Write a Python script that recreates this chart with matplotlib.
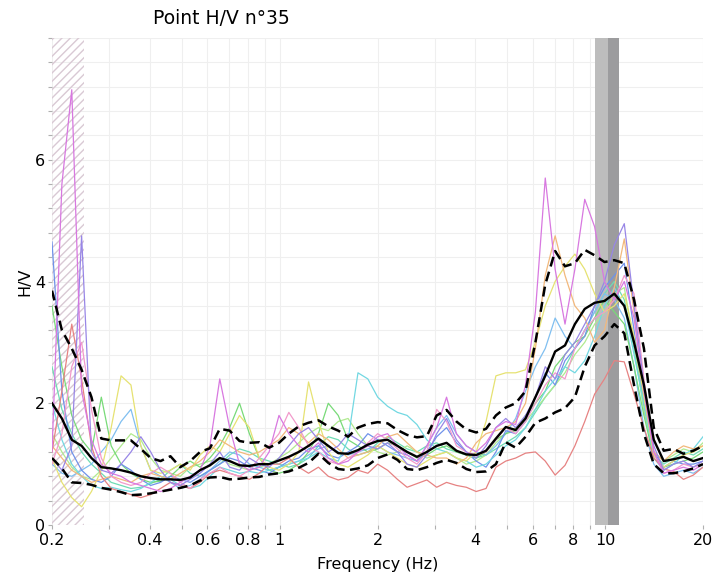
import matplotlib
matplotlib.use("Agg")
import matplotlib.pyplot as plt
from matplotlib.ticker import FixedLocator, FixedFormatter, MultipleLocator, NullFormatter

# Frequency samples (Hz), log spaced from 0.2 to 20
freq = [0.200, 0.2145, 0.230, 0.2466, 0.2644, 0.2835, 0.304, 0.326, 0.3496, 0.3749,
        0.402, 0.431, 0.4622, 0.4956, 0.5314, 0.5699, 0.6111, 0.6553, 0.7027, 0.7535,
        0.808, 0.8664, 0.9291, 0.9963, 1.068, 1.146, 1.228, 1.317, 1.412, 1.515,
        1.624, 1.742, 1.868, 2.003, 2.148, 2.303, 2.466, 2.644, 2.835, 3.04,
        3.26, 3.496, 3.749, 4.02, 4.31, 4.622, 4.956, 5.314, 5.699, 6.111,
        6.553, 7.027, 7.535, 8.08, 8.664, 9.291, 9.963, 10.68, 11.46, 12.28,
        13.17, 14.12, 15.15, 16.24, 17.42, 18.68, 20.0]

hv_mean = [2.00, 1.75, 1.40, 1.30, 1.10, 0.95, 0.93, 0.90, 0.86, 0.80,
           0.77, 0.75, 0.75, 0.74, 0.78, 0.90, 0.98, 1.10, 1.05, 0.98,
           0.97, 1.00, 1.00, 1.06, 1.12, 1.20, 1.30, 1.42, 1.30, 1.18,
           1.17, 1.23, 1.32, 1.38, 1.40, 1.30, 1.20, 1.12, 1.20, 1.30,
           1.35, 1.22, 1.16, 1.15, 1.22, 1.42, 1.61, 1.56, 1.75, 2.10,
           2.45, 2.85, 2.95, 3.30, 3.55, 3.65, 3.68, 3.80, 3.60, 3.00,
           2.30, 1.40, 1.05, 1.08, 1.12, 1.05, 1.10]

hv_upper = [3.85, 3.20, 2.90, 2.55, 2.10, 1.42, 1.39, 1.39, 1.39, 1.25,
            1.10, 1.05, 1.13, 0.95, 1.05, 1.20, 1.26, 1.58, 1.55, 1.38,
            1.35, 1.36, 1.27, 1.35, 1.50, 1.62, 1.68, 1.72, 1.62, 1.55,
            1.45, 1.60, 1.66, 1.69, 1.67, 1.56, 1.48, 1.44, 1.46, 1.80,
            1.89, 1.70, 1.57, 1.52, 1.58, 1.80, 1.93, 2.00, 2.20, 3.00,
            3.95, 4.50, 4.25, 4.30, 4.52, 4.43, 4.32, 4.35, 4.30, 3.70,
            2.90, 1.60, 1.22, 1.25, 1.17, 1.22, 1.30]

hv_lower = [1.10, 0.93, 0.70, 0.69, 0.66, 0.61, 0.58, 0.54, 0.49, 0.50,
            0.52, 0.55, 0.58, 0.61, 0.65, 0.73, 0.78, 0.79, 0.75, 0.76,
            0.78, 0.79, 0.83, 0.85, 0.88, 0.94, 1.02, 1.17, 1.02, 0.92,
            0.90, 0.93, 0.98, 1.10, 1.16, 1.07, 0.92, 0.90, 0.95, 1.02,
            1.07, 1.02, 0.92, 0.87, 0.88, 1.00, 1.36, 1.27, 1.45, 1.68,
            1.75, 1.85, 1.92, 2.10, 2.60, 2.95, 3.10, 3.30, 3.15, 2.30,
            1.50, 1.00, 0.85, 0.85, 0.88, 0.93, 1.00]

# Individual time windows
win_magenta = [1.20, 5.60, 7.15, 2.20, 1.40, 1.00, 0.85, 0.80, 0.70, 0.65,
               0.60, 0.55, 0.60, 0.70, 0.80, 0.90, 1.30, 2.40, 1.60, 1.00,
               0.90, 0.95, 1.20, 1.80, 1.50, 1.30, 1.20, 1.35, 1.10, 1.00,
               1.05, 1.20, 1.30, 1.45, 1.50, 1.30, 1.15, 1.05, 1.30, 1.60,
               2.10, 1.50, 1.30, 1.20, 1.35, 1.60, 1.70, 1.65, 2.30, 3.50,
               5.70, 4.20, 3.30, 4.20, 5.35, 4.90, 4.00, 3.70, 4.00, 3.40,
               2.20, 1.20, 0.85, 0.90, 0.95, 0.90, 1.00]
win_violet = [1.10, 0.90, 1.30, 4.75, 1.20, 0.90, 0.85, 1.00, 1.20, 1.45,
              1.20, 0.90, 0.70, 0.65, 0.75, 0.85, 1.00, 1.20, 0.95, 0.90,
              1.10, 1.00, 0.95, 1.10, 1.30, 1.50, 1.60, 1.40, 1.20, 1.30,
              1.50, 1.40, 1.30, 1.25, 1.35, 1.20, 1.00, 0.95, 1.15, 1.50,
              1.75, 1.40, 1.20, 1.10, 1.30, 1.60, 1.75, 1.60, 1.80, 2.10,
              2.60, 2.40, 2.80, 3.00, 3.30, 3.60, 4.00, 4.60, 4.95, 3.60,
              2.30, 1.30, 0.90, 1.00, 1.05, 0.95, 1.05]
win_blue = [4.65, 2.20, 1.20, 0.90, 0.75, 0.70, 0.80, 1.00, 0.90, 0.75,
            0.65, 0.70, 0.80, 0.75, 0.70, 0.80, 0.90, 1.00, 1.10, 1.05,
            0.95, 0.90, 0.85, 0.95, 1.05, 1.10, 1.25, 1.30, 1.15, 1.10,
            1.20, 1.30, 1.50, 1.40, 1.30, 1.20, 1.15, 1.05, 1.20, 1.45,
            1.60, 1.35, 1.20, 1.05, 0.95, 1.20, 1.55, 1.50, 1.70, 2.10,
            2.50, 2.30, 2.70, 2.90, 3.10, 3.60, 3.90, 4.10, 4.30, 3.20,
            2.00, 1.20, 0.95, 1.05, 1.00, 1.00, 1.05]
win_cyan = [2.00, 1.40, 1.00, 0.80, 0.65, 0.60, 0.62, 0.58, 0.55, 0.60,
            0.70, 0.80, 0.75, 0.65, 0.60, 0.65, 0.80, 0.95, 0.90, 0.85,
            0.88, 0.85, 0.90, 0.95, 1.00, 1.05, 1.10, 1.20, 1.10, 1.05,
            1.40, 2.50, 2.40, 2.10, 1.95, 1.85, 1.80, 1.65, 1.40, 1.25,
            1.20, 1.10, 1.05, 0.95, 1.00, 1.15, 1.30, 1.40, 1.60, 1.90,
            2.20, 2.40, 2.60, 2.50, 2.70, 3.10, 3.60, 3.90, 3.60, 2.80,
            2.00, 1.10, 0.90, 1.00, 1.15, 1.25, 1.45]
win_sky = [1.00, 0.85, 0.80, 0.90, 1.00, 1.20, 1.40, 1.70, 1.90, 1.30,
           0.90, 0.80, 0.70, 0.60, 0.65, 0.75, 0.90, 1.05, 1.20, 1.15,
           1.00, 0.95, 0.90, 0.95, 1.00, 1.05, 1.15, 1.25, 1.30, 1.20,
           1.15, 1.20, 1.25, 1.30, 1.20, 1.15, 1.10, 1.05, 1.30, 1.60,
           1.80, 1.50, 1.30, 1.20, 1.15, 1.30, 1.50, 1.75, 2.20, 2.60,
           2.90, 3.40, 3.10, 2.90, 3.20, 3.50, 3.80, 3.70, 3.40, 2.60,
           1.60, 1.00, 0.80, 0.85, 0.90, 0.85, 0.95]
win_green = [3.60, 2.60, 1.80, 1.40, 1.20, 2.10, 1.30, 1.00, 0.85, 0.75,
             0.70, 0.72, 0.80, 0.95, 1.05, 0.95, 1.10, 1.30, 1.60, 2.00,
             1.50, 1.10, 0.90, 0.85, 0.90, 1.00, 1.20, 1.50, 2.00, 1.80,
             1.40, 1.30, 1.20, 1.25, 1.35, 1.30, 1.20, 1.10, 1.15, 1.25,
             1.30, 1.20, 1.15, 1.10, 1.20, 1.40, 1.50, 1.55, 1.80, 2.00,
             2.20, 2.60, 2.80, 3.00, 3.10, 3.40, 3.70, 3.50, 3.30, 2.60,
             1.80, 1.10, 0.95, 1.00, 1.05, 1.10, 1.20]
win_lime = [1.50, 1.20, 0.95, 0.80, 0.75, 0.90, 1.10, 1.30, 1.50, 1.40,
            1.10, 0.90, 0.85, 0.80, 0.95, 1.00, 1.05, 1.10, 1.00, 0.95,
            0.90, 0.95, 1.00, 1.10, 1.20, 1.35, 1.50, 1.60, 1.55, 1.70,
            1.75, 1.50, 1.30, 1.20, 1.15, 1.20, 1.30, 1.20, 1.10, 1.15,
            1.20, 1.10, 1.00, 1.05, 1.15, 1.35, 1.50, 1.60, 1.70, 1.90,
            2.10, 2.30, 2.50, 2.80, 3.00, 3.30, 3.50, 3.80, 3.90, 3.00,
            1.90, 1.20, 1.05, 1.15, 1.25, 1.20, 1.35]
win_yellow = [1.10, 0.70, 0.45, 0.30, 0.55, 0.90, 1.60, 2.45, 2.30, 1.30,
              0.90, 0.85, 0.90, 1.00, 0.90, 1.15, 1.30, 1.20, 1.50, 1.80,
              1.60, 1.10, 0.95, 0.90, 1.00, 1.20, 2.35, 1.70, 1.20, 1.00,
              0.95, 1.05, 1.15, 1.30, 1.20, 1.10, 1.00, 0.95, 1.05, 1.15,
              1.20, 1.10, 1.05, 1.20, 1.70, 2.45, 2.50, 2.50, 2.55, 3.00,
              3.60, 4.00, 4.25, 4.45, 4.20, 3.80, 3.50, 3.60, 3.80, 3.10,
              2.10, 1.15, 0.95, 1.05, 1.15, 1.20, 1.30]
win_orange = [1.30, 1.10, 0.90, 0.80, 0.70, 0.75, 0.80, 0.75, 0.70, 0.80,
              0.85, 0.80, 0.75, 0.85, 0.95, 1.05, 1.20, 1.40, 1.30, 1.20,
              1.15, 1.20, 1.30, 1.40, 1.60, 1.50, 1.35, 1.50, 1.40, 1.25,
              1.10, 1.15, 1.20, 1.30, 1.45, 1.50, 1.35, 1.20, 1.15, 1.10,
              1.10, 1.00, 1.10, 1.35, 1.50, 1.55, 1.60, 1.70, 2.00, 2.90,
              4.10, 4.75, 4.10, 3.60, 3.40, 3.00, 3.20, 3.90, 4.70, 3.50,
              2.20, 1.20, 1.05, 1.20, 1.30, 1.25, 1.30]
win_red = [1.20, 2.20, 3.30, 2.40, 1.30, 0.80, 0.60, 0.55, 0.50, 0.45,
           0.50, 0.60, 0.70, 0.65, 0.60, 0.70, 0.85, 0.90, 0.85, 0.80,
           0.75, 0.85, 1.00, 1.00, 1.10, 0.95, 0.85, 0.95, 0.80, 0.74,
           0.78, 0.90, 0.85, 1.00, 0.90, 0.75, 0.62, 0.68, 0.74, 0.62,
           0.70, 0.65, 0.62, 0.55, 0.60, 0.95, 1.05, 1.10, 1.18, 1.20,
           1.05, 0.82, 0.98, 1.30, 1.70, 2.15, 2.40, 2.70, 2.68, 2.15,
           1.60, 1.10, 0.92, 0.88, 0.75, 0.82, 0.95]
win_pink = [1.00, 1.50, 2.60, 3.00, 1.90, 1.10, 0.80, 0.70, 0.65, 0.70,
            0.85, 0.95, 0.85, 0.70, 0.60, 0.75, 0.85, 0.95, 0.85, 0.80,
            0.90, 1.10, 1.30, 1.50, 1.85, 1.60, 1.30, 1.20, 1.05, 1.00,
            1.10, 1.20, 1.35, 1.50, 1.40, 1.25, 1.10, 1.00, 1.20, 1.90,
            1.70, 1.30, 1.20, 1.15, 1.20, 1.40, 1.60, 1.50, 1.70, 2.00,
            2.30, 2.50, 2.40, 2.90, 3.20, 3.40, 3.50, 3.70, 4.10, 3.80,
            2.40, 1.20, 0.85, 0.90, 1.00, 0.95, 1.00]
win_teal = [2.60, 1.90, 1.50, 1.20, 1.00, 0.85, 0.70, 0.65, 0.60, 0.62,
            0.68, 0.75, 0.90, 1.00, 0.85, 0.80, 0.90, 1.00, 1.15, 1.25,
            1.20, 1.10, 1.05, 1.00, 0.95, 1.00, 1.10, 1.30, 1.45, 1.40,
            1.25, 1.15, 1.20, 1.35, 1.45, 1.35, 1.25, 1.20, 1.30, 1.35,
            1.25, 1.20, 1.15, 1.10, 1.15, 1.25, 1.35, 1.45, 1.60, 1.85,
            2.10, 2.30, 2.60, 2.90, 3.20, 3.50, 3.80, 4.00, 3.70, 2.90,
            1.90, 1.15, 1.00, 1.10, 1.20, 1.15, 1.25]

windows = [win_teal, win_lime, win_sky, win_green, win_blue, win_cyan,
           win_yellow, win_orange, win_red, win_pink, win_violet, win_magenta]
window_colors = ["#6fdcb4", "#b0ea90", "#80bff0", "#78da78", "#6f92ea", "#72d8e2",
                 "#e6e272", "#f2b87c", "#e68282", "#f29acb", "#9886e6", "#d878e0"]

x_ticks = [0.2, 0.4, 0.6, 0.8, 1, 2, 4, 6, 8, 10, 20]
x_tick_labels = ["0.2", "0.4", "0.6", "0.8", "1", "2", "4", "6", "8", "10", "20"]
y_ticks = [0, 2, 4, 6]

# Excluded low-frequency band and peak frequency band
f_excluded = (0.2, 0.25)
f0_low, f0, f0_high = 9.33, 10.24, 11.06

fig = plt.figure(figsize=(7.17, 5.86), dpi=100)
ax = fig.add_axes([52 / 717, 61 / 586, 651 / 717, 487 / 586])
ax.set_xscale("log")
ax.set_xlim(0.2, 20)
ax.set_ylim(0, 8)

ax.axvspan(*f_excluded, facecolor="none", edgecolor="#d9c9d4", hatch="////",
           linewidth=0, zorder=1)
ax.axvspan(f0_low, f0, color="#bdbdbd", linewidth=0, zorder=1)
ax.axvspan(f0, f0_high, color="#9c9c9e", linewidth=0, zorder=1)

for values, color in zip(windows, window_colors):
    ax.plot(freq, values, color=color, linewidth=0.9, zorder=3)

ax.plot(freq, hv_mean, color="black", linewidth=1.7, zorder=5)
ax.plot(freq, hv_upper, color="black", linewidth=1.8, linestyle=(0, (4, 2.2)), zorder=5)
ax.plot(freq, hv_lower, color="black", linewidth=1.8, linestyle=(0, (4, 2.2)), zorder=5)

ax.xaxis.set_major_locator(FixedLocator(x_ticks))
ax.xaxis.set_major_formatter(FixedFormatter(x_tick_labels))
ax.xaxis.set_minor_formatter(NullFormatter())
ax.yaxis.set_major_locator(FixedLocator(y_ticks))
ax.yaxis.set_minor_locator(MultipleLocator(0.4))

ax.grid(which="both", color="#efefef", linewidth=0.8, zorder=0)
ax.set_axisbelow(True)
for side in ax.spines.values():
    side.set_visible(False)

ax.tick_params(axis="both", which="both", color="#b0b0b0", length=3, width=0.8,
               labelsize=11.5, pad=2)
ax.tick_params(axis="x", which="major", pad=3)

ax.set_xlabel("Frequency (Hz)", fontsize=11.5, labelpad=6)
ax.set_ylabel("H/V", fontsize=11.5, labelpad=2)
fig.text(221 / 717, 1 - 18 / 586, "Point H/V n°35", fontsize=13.5,
         ha="center", va="center")

fig.savefig("out.png", dpi=100)
